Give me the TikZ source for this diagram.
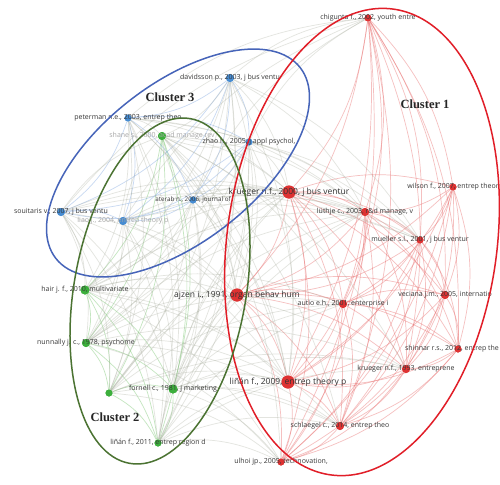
\documentclass[tikz,border=0pt]{standalone}
\usepackage{fontspec}
\setmainfont{Liberation Serif}
\newfontfamily\lblfont{Open Sans}
\definecolor{nred}{RGB}{222,50,50}
\definecolor{ngreen}{RGB}{60,175,60}
\definecolor{nblue}{RGB}{70,140,210}
\definecolor{ered}{RGB}{232,105,105}
\definecolor{egreen}{RGB}{115,195,105}
\definecolor{eblue}{RGB}{125,165,225}
\definecolor{egray}{RGB}{170,175,160}
\definecolor{ellred}{RGB}{225,30,40}
\definecolor{ellgreen}{RGB}{75,115,50}
\definecolor{ellblue}{RGB}{70,100,185}
\tikzset{
  nodedot/.style={circle, inner sep=0pt, minimum size=#1, draw=none},
  rdot/.style={nodedot=#1, fill=nred},
  gdot/.style={nodedot=#1, fill=ngreen},
  bdot/.style={nodedot=#1, fill=nblue},
  lbl/.style={font=\lblfont\fontsize{7}{8}\selectfont, text=black!78, inner sep=0pt},
  biglbl/.style={font=\lblfont\fontsize{8.5}{9}\selectfont, text=black!80, inner sep=0pt},
  fadedlbl/.style={lbl, text=black!35},
  clusterlbl/.style={font=\fontsize{12.5}{14}\selectfont\bfseries, text=black!85, inner sep=0pt},
  link/.style={line width=0.7pt, opacity=0.42},
  redlink/.style={link, draw=ered},
  greenlink/.style={link, draw=egreen},
  bluelink/.style={link, draw=eblue},
  mixlink/.style={link, draw=egray, opacity=0.33},
  cluster/.style={line width=1.5pt, fill=none},
}
\begin{document}
\begin{tikzpicture}[x=1pt, y=-1pt]
\useasboundingbox[fill=white] (0,0) rectangle (500,484);

% ---- nodes: cluster 1 (red)
\node[rdot=7]  (r1)  at (368,18)  {};
\node[rdot=13] (r2)  at (289,192) {};
\node[rdot=7]  (r3)  at (453,187) {};
\node[rdot=8]  (r4)  at (365,212) {};
\node[rdot=7]  (r5)  at (420,240) {};
\node[rdot=13] (r6)  at (237,295) {};
\node[rdot=8]  (r7)  at (343,304) {};
\node[rdot=8]  (r8)  at (445,295) {};
\node[rdot=7]  (r9)  at (458,349) {};
\node[rdot=8]  (r10) at (406,369) {};
\node[rdot=13] (r11) at (288,382) {};
\node[rdot=8]  (r12) at (340,426) {};
\node[rdot=7]  (r13) at (281,462) {};
% ---- nodes: cluster 2 (green)
\node[gdot=8]  (g1) at (162,136) {};
\node[gdot=9]  (g2) at (85,290)  {};
\node[gdot=8]  (g3) at (86,343)  {};
\node[gdot=7]  (g4) at (109,393) {};
\node[gdot=9]  (g5) at (173,389) {};
\node[gdot=7]  (g6) at (158,443) {};
% ---- nodes: cluster 3 (blue)
\node[bdot=8] (b1) at (230,78)  {};
\node[bdot=7] (b2) at (128,118) {};
\node[bdot=7] (b3) at (249,142) {};
\node[bdot=7] (b4) at (193,200) {};
\node[bdot=8] (b5) at (61,212)  {};
\node[bdot=8] (b6) at (123,221) {};

% ---- links
\foreach \i [evaluate=\i as \s using int(\i+1)] in {1,...,12}
  \foreach \j in {\s,...,13}
    \draw[redlink] (r\i) to[bend left=17] (r\j);
\foreach \i [evaluate=\i as \s using int(\i+1)] in {1,...,5}
  \foreach \j in {\s,...,6}
    \draw[greenlink] (g\i) to[bend left=17] (g\j);
\foreach \i [evaluate=\i as \s using int(\i+1)] in {1,...,5}
  \foreach \j in {\s,...,6}
    \draw[bluelink] (b\i) to[bend left=17] (b\j);
\foreach \i in {1,...,6}
  \foreach \j in {1,...,6}
    \draw[mixlink] (b\i) to[bend left=17] (g\j);
\foreach \i in {1,...,6}
  \foreach \j in {2,4,6,7,10,11,12,13}
    \draw[mixlink] (g\i) to[bend left=17] (r\j);
\foreach \i in {1,...,6}
  \foreach \j in {1,2,4,5,6,11}
    \draw[mixlink] (b\i) to[bend left=17] (r\j);

% ---- redraw dots above the links
\foreach \n/\s/\c in {r1/7/nred,r2/13/nred,r3/7/nred,r4/8/nred,r5/7/nred,r6/13/nred,
  r7/8/nred,r8/8/nred,r9/7/nred,r10/8/nred,r11/13/nred,r12/8/nred,r13/7/nred,
  g1/8/ngreen,g2/9/ngreen,g3/8/ngreen,g4/7/ngreen,g5/9/ngreen,g6/7/ngreen,
  b1/8/nblue,b2/7/nblue,b3/7/nblue,b4/7/nblue,b5/8/nblue,b6/8/nblue}
  \fill[\c] (\n.center) circle [radius=\s/2];

% ---- labels
\node[lbl]     (r1l)  at (r1)  {chigunta f., 2002, youth entre};
\node[biglbl]  (r2l)  at (r2)  {krueger n.f., 2000, j bus ventur};
\node[lbl]     (r3l)  at (r3)  {wilson f., 2007, entrep theor};
\node[lbl]     (r4l)  at (r4)  {lüthje c., 2003, r\&d manage, v};
\node[lbl]     (r5l)  at (r5)  {mueller s.l., 2001, j bus ventur};
\node[biglbl]  (r6l)  at (r6)  {ajzen i., 1991, organ behav hum};
\node[lbl]     (r7l)  at (r7)  {autio e.h., 2001, enterprise i};
\node[lbl]     (r8l)  at (r8)  {veciana j.m., 2005, internatio};
\node[lbl, anchor=east] (r9l) at ([xshift=41pt]r9) {shinnar r.s., 2012, entrep the};
\node[lbl]     (r10l) at (r10) {krueger n.f., 1993, entreprene};
\node[biglbl]  (r11l) at (r11) {liñán f., 2009, entrep theory p};
\node[lbl]     (r12l) at (r12) {schlaegel c., 2014, entrep theo};
\node[lbl]     (r13l) at (r13) {ulhoi jp., 2005, technovation,};
\node[fadedlbl](g1l)  at (g1)  {shane s., 2000, acad manage rev};
\node[lbl]     (g2l)  at (g2)  {hair j. f., 2010, multivariate};
\node[lbl]     (g3l)  at (g3)  {nunnally j. c., 1978, psychome};
\node[lbl]     (g5l)  at (g5)  {fornell c., 1981, j marketing};
\node[lbl]     (g6l)  at (g6)  {liñán f., 2011, entrep region d};
\node[lbl]     (b1l)  at (b1)  {davidsson p., 2003, j bus ventu};
\node[lbl]     (b2l)  at (b2)  {peterman n.e., 2003, entrep theo};
\node[lbl]     (b3l)  at (b3)  {zhao h., 2005, j appl psychol,};
\node[lbl, font=\lblfont\fontsize{6.3}{7}\selectfont] (b4l) at (b4) {aterab n., 2006, journal of};
\node[lbl]     (b5l)  at (b5)  {souitaris v., 2007, j bus ventu};
\node[fadedlbl](b6l)  at (b6)  {liao j., 2004, entrep theory p};

% ---- cluster outlines
\draw[cluster, ellblue, rotate around={38:(178,163)}] (178,163) ellipse [x radius=155, y radius=79];
\draw[cluster, ellred, rotate around={-7.6:(362,242)}] (362,242) ellipse [x radius=135, y radius=235];
\draw[cluster, ellgreen, rotate around={-10:(160,291)}] (160,291) ellipse [x radius=86, y radius=175];

% ---- cluster names
\node[clusterlbl] (c1) at (425,104) {Cluster 1};
\node[clusterlbl] (c2) at (115,417) {Cluster 2};
\node[clusterlbl] (c3) at (170,97)  {Cluster 3};
\end{tikzpicture}
\end{document}
